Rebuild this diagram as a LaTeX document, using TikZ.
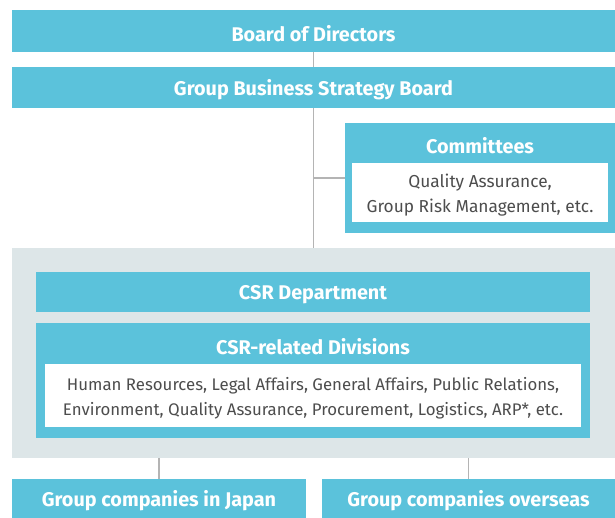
\documentclass[tikz,border=0pt]{standalone}
\usepackage{fontspec}
\setmainfont{Fira Sans}
\definecolor{cblue}{HTML}{5BC2DB}
\definecolor{cpanel}{HTML}{DDE6E8}
\definecolor{cline}{HTML}{B4B4B4}
\definecolor{ctext}{HTML}{4D4D4D}
\tikzset{
  bluebox/.style={fill=cblue, draw=none, inner sep=0pt, outer sep=0pt, anchor=north west},
  whitebox/.style={fill=white, draw=none, inner sep=0pt, outer sep=0pt, anchor=north west},
  title/.style={text=white, font=\fontsize{19.8}{23}\selectfont\bfseries, inner sep=0pt, yshift=-2.5pt},
  body/.style={text=ctext, font=\fontsize{16.8}{25}\selectfont, align=center, inner sep=0pt, yshift=-2.5pt},
  conn/.style={draw=cline, line width=1.6pt}
}
\begin{document}
\begin{tikzpicture}[x=1pt,y=-1pt]
\useasboundingbox (0,0) rectangle (615,518);
% panel
\node[fill=cpanel, inner sep=0pt, outer sep=0pt, anchor=north west, minimum width=603pt, minimum height=210pt] (panel) at (12,248) {};
% top boxes
\node[bluebox, minimum width=603pt, minimum height=42pt] (bod) at (12,10) {};
\node[title] at (bod.center) {Board of Directors};
\node[bluebox, minimum width=603pt, minimum height=41pt] (gbs) at (12,67) {};
\node[title] at (gbs.center) {Group Business Strategy Board};
% committees
\node[bluebox, minimum width=270pt, minimum height=110pt] (comm) at (345,123) {};
\node[title] at (480,143.5) {Committees};
\node[whitebox, minimum width=256pt, minimum height=59pt] (commw) at (352,163) {};
\node[body, font=\fontsize{17.3}{25}\selectfont] at (commw.center) {Quality Assurance,\\Group Risk Management, etc.};
% CSR
\node[bluebox, minimum width=554pt, minimum height=40pt] (csr) at (36,272) {};
\node[title] at (csr.center) {CSR Department};
\node[bluebox, minimum width=554pt, minimum height=115pt] (div) at (36,323) {};
\node[title] at (313,344.5) {CSR-related Divisions};
\node[whitebox, minimum width=536pt, minimum height=63pt] (divw) at (45,364) {};
\node[body] at (divw.center) {Human Resources, Legal Affairs, General Affairs, Public Relations,\\Environment, Quality Assurance, Procurement, Logistics, ARP*, etc.};
% bottom
\node[bluebox, minimum width=294pt, minimum height=39pt] (jp) at (12,479) {};
\node[title] at (jp.center) {Group companies in Japan};
\node[bluebox, minimum width=293pt, minimum height=39pt] (os) at (322,479) {};
\node[title] at (os.center) {Group companies overseas};
% connectors
\coordinate (j) at (gbs.south |- 0,178);
\draw[conn] (bod.south) -- (gbs.north);
\draw[conn] (gbs.south) -- (panel.north);
\draw[conn] (j) -- (comm.west |- j);
\draw[conn] (jp.north) -- (jp.north |- panel.south);
\draw[conn] (os.north) -- (os.north |- panel.south);
\end{tikzpicture}
\end{document}
